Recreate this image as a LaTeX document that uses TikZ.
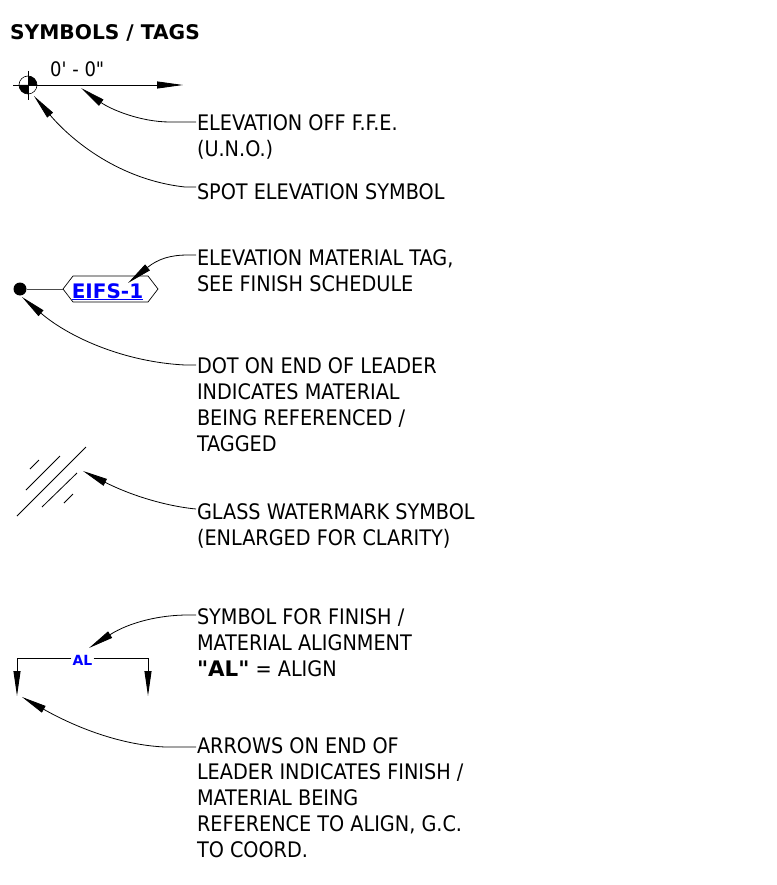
\documentclass[tikz,border=0pt]{standalone}
\usepackage{fontspec}
\setmainfont{DejaVu Sans Condensed}
\newfontfamily\plainface{DejaVu Sans Condensed}
\newfontfamily\boldface[BoldFont={DejaVu Sans Bold}]{DejaVu Sans}
\usetikzlibrary{arrows.meta}
\definecolor{tagblue}{RGB}{0,0,255}
\newcommand{\boldtxt}{\boldface\bfseries}
\tikzset{
  x=1pt,y=-1pt,
  leader/.style={draw=black,line width=0.8pt,-{Triangle[length=25pt,width=7.5pt]}},
  note/.style={anchor=base west,inner sep=0pt,outer sep=0pt,align=left,font=\fontsize{21.4}{26}\selectfont},
  thin line/.style={draw=black,line width=0.8pt},
  sym/.style={draw=black,line width=0.9pt},
}
\begin{document}
\begin{tikzpicture}
\useasboundingbox (0,0) rectangle (776,885);
\node[anchor=base west,inner sep=0pt,font=\boldtxt\fontsize{20.2}{22}\selectfont] (title) at (10,40) {SYMBOLS / TAGS};

% spot elevation
\coordinate (spot) at (28,85);
\coordinate (spotE) at (183,85);
\coordinate (spotW) at (13,85);
\draw[sym,-{Triangle[length=26pt,width=7pt]}] (spotW) -- (spotE);
\draw[sym] (28,71) -- (28,100);
\fill[black] (spot) -- (19,85) arc (180:90:9) -- cycle;
\fill[black] (spot) -- (37,85) arc (0:-90:9) -- cycle;
\draw[thin line,line width=0.6pt] (spot) circle (9);
\node[anchor=base west,inner sep=0pt,font=\plainface\fontsize{20}{22}\selectfont] (val) at (50,77) {0' - 0"};

\coordinate (s1) at (196,122); \coordinate (t1) at (81,88);
\node[note] (n1) at (197,157) {ELEVATION OFF F.F.E.\\(U.N.O.)};
\draw[leader] (s1) -- (170,122) .. controls (140,122) and (110,109) .. (t1);
\coordinate (s2) at (196,187); \coordinate (t2) at (34,96);
\node[note] (n2) at (197,200) {SPOT ELEVATION SYMBOL};
\draw[leader] (s2) -- (185,187) .. controls (120,180) and (72,141) .. (t2);

% material tag
\node[circle,fill=black,minimum size=13pt,inner sep=0pt] (dot) at (20,289) {};
\coordinate (hexW) at (63,289); \coordinate (hexE) at (158,289);
\draw[thin line,line width=0.7pt,line join=miter] (hexW) -- (73,276) -- (148,276) -- (hexE) -- (148,302) -- (73,302) -- cycle;
\draw[draw=black!70,line width=1pt] (dot) -- (hexW);
\node[anchor=base,inner sep=0pt,text=tagblue,font=\boldtxt\fontsize{20}{22}\selectfont] (tag) at (107.5,298) {\underline{EIFS-1}};
\coordinate (s3) at (196,255); \coordinate (t3) at (128,283);
\node[note] (n3) at (197,291) {ELEVATION MATERIAL TAG,\\SEE FINISH SCHEDULE};
\draw[leader] (s3) -- (188,255) .. controls (170,255) and (158,259) .. (t3);
\coordinate (s4) at (196,365); \coordinate (t4) at (22,297);
\node[note] (n4) at (197,451) {DOT ON END OF LEADER\\INDICATES MATERIAL\\BEING REFERENCED /\\TAGGED};
\draw[leader] (s4) -- (185,365) .. controls (125,362) and (70,338) .. (t4);

% glass
\draw[thin line] (17,516) -- (86,447);
\draw[thin line] (26,490) -- (60,456);
\draw[thin line] (42,507) -- (77,473);
\draw[thin line] (30,469) -- (39,460);
\draw[thin line] (64,503) -- (73,494);
\coordinate (s5) at (196,509); \coordinate (t5) at (83,471);
\node[note] (n5) at (197,545) {GLASS WATERMARK SYMBOL\\(ENLARGED FOR CLARITY)};
\draw[leader] (s5) .. controls (165,506) and (130,495) .. (t5);

% align
\node[inner sep=0pt,text=tagblue,font=\boldtxt\fontsize{14}{16}\selectfont] (al) at (82.5,660) {AL};
\coordinate (lt) at (17,696); \coordinate (rt) at (148,696);
\draw[sym,-{Triangle[length=25pt,width=7pt]}] (al.west) ++(-1,-2) -- (17,658) -- (lt);
\draw[sym,-{Triangle[length=25pt,width=7pt]}] (al.east) ++(1,-2) -- (148,658) -- (rt);
\coordinate (s6) at (196,615); \coordinate (t6) at (89,648);
\node[note] (n6) at (197,676) {SYMBOL FOR FINISH /\\MATERIAL ALIGNMENT\\{\boldtxt "AL"} = ALIGN};
\draw[leader] (s6) -- (188,615) .. controls (160,615) and (130,622) .. (t6);
\coordinate (s7) at (196,747); \coordinate (t7) at (22,697);
\node[note] (n7) at (197,857) {ARROWS ON END OF\\LEADER INDICATES FINISH /\\MATERIAL BEING\\REFERENCE TO ALIGN, G.C.\\TO COORD.};
\draw[leader] (s7) -- (165,747) .. controls (120,745) and (75,727) .. (t7);
\end{tikzpicture}
\end{document}
